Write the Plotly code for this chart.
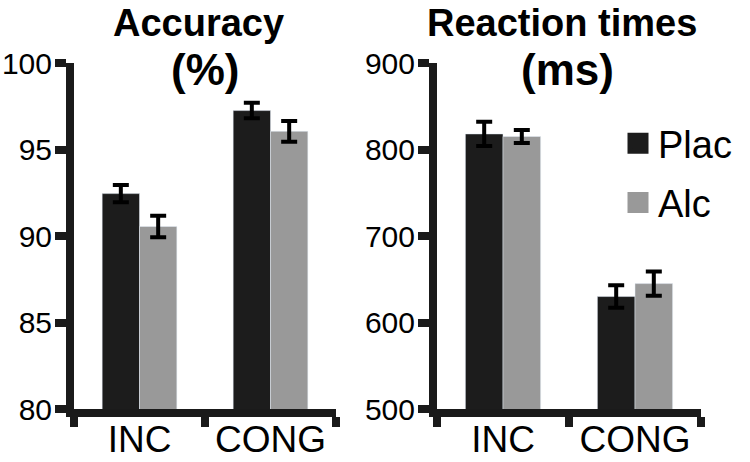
import plotly.graph_objects as go
from plotly.subplots import make_subplots

# ---- data ----
conditions = ["INC", "CONG"]
acc_plac = [92.45, 97.25]
acc_plac_err = [0.5, 0.45]
acc_alc = [90.55, 96.05]
acc_alc_err = [0.62, 0.6]
rt_plac = [818, 630]
rt_plac_err = [14, 13]
rt_alc = [815, 645]
rt_alc_err = [7.5, 14]
acc_ticks = [80, 85, 90, 95, 100]
rt_ticks = [500, 600, 700, 800, 900]
title_line1 = ["Accuracy", "Reaction times"]
title_line2 = ["(%)", "(ms)"]

PLAC_COL = "#1c1c1c"
ALC_COL = "#999999"
AX_COL = "#1a1a1a"
FONT = "Liberation Sans, Arial, sans-serif"

fig = make_subplots(rows=1, cols=2)

def err(vals):
    return dict(type="data", array=vals, visible=True, color="black",
                thickness=4, width=8)

fig.add_trace(go.Bar(x=conditions, y=acc_plac, error_y=err(acc_plac_err),
                     marker_color=PLAC_COL, showlegend=False), 1, 1)
fig.add_trace(go.Bar(x=conditions, y=acc_alc, error_y=err(acc_alc_err),
                     marker_color=ALC_COL, showlegend=False), 1, 1)
fig.add_trace(go.Bar(x=conditions, y=rt_plac, error_y=err(rt_plac_err),
                     marker_color=PLAC_COL, showlegend=False), 1, 2)
fig.add_trace(go.Bar(x=conditions, y=rt_alc, error_y=err(rt_alc_err),
                     marker_color=ALC_COL, showlegend=False), 1, 2)

# legend entries (square markers)
for name, col in [("Plac", PLAC_COL), ("Alc", ALC_COL)]:
    fig.add_trace(go.Scatter(x=[None], y=[None], mode="markers", name=name,
                             legendgroup=name,
                             marker=dict(symbol="square", size=16, color=col,
                                         line=dict(color=col, width=5))), 1, 2)

ydom = [(462 - 409) / 462, (462 - 63) / 462]
xcommon = dict(showline=True, linewidth=8, linecolor=AX_COL, ticks="outside",
               tickson="boundaries", ticklen=10, tickwidth=8, tickcolor=AX_COL,
               tickfont=dict(family=FONT, size=37, color="black"),
               showgrid=False, zeroline=False, ticklabelstandoff=-9,
               automargin=False)
ycommon = dict(showline=True, linewidth=8, linecolor=AX_COL, ticks="outside",
               ticklen=11, tickwidth=8, tickcolor=AX_COL,
               tickfont=dict(family=FONT, size=30, color="black"),
               showgrid=False, zeroline=False, domain=ydom, automargin=False,
               ticklabelstandoff=-3)

fig.update_xaxes(xcommon)
fig.update_yaxes(ycommon)
fig.update_xaxes(domain=[74 / 750, 336 / 750], row=1, col=1)
fig.update_xaxes(domain=[437 / 750, 701 / 750], row=1, col=2)
fig.update_yaxes(range=[80, 100], tickvals=acc_ticks, row=1, col=1)
fig.update_yaxes(range=[500, 900], tickvals=rt_ticks, row=1, col=2)

t1x = [0.477, 0.473]
t2x = [0.5, 0.496]
for i in range(2):
    xr = "x domain" if i == 0 else "x2 domain"
    fig.add_annotation(text="<b>" + title_line1[i] + "</b>", xref=xr, x=t1x[i],
                       yref="paper", y=1.0, xanchor="center",
                       yanchor="top", showarrow=False,
                       font=dict(family=FONT, size=38, color="black"))
    fig.add_annotation(text="<b>" + title_line2[i] + "</b>", xref=xr, x=t2x[i],
                       yref="paper", y=1 - 43 / 462, xanchor="center",
                       yanchor="top", showarrow=False,
                       font=dict(family=FONT, size=44, color="black"))

fig.update_layout(
    width=750, height=462,
    margin=dict(l=0, r=0, t=0, b=0, pad=0, autoexpand=False),
    paper_bgcolor="white", plot_bgcolor="white",
    barmode="group", bargap=0.43, bargroupgap=0,
    legend=dict(x=618 / 750, y=1 - 112 / 462, xanchor="left", yanchor="top",
                font=dict(family=FONT, size=38, color="black"),
                traceorder="grouped", tracegroupgap=7,
                bgcolor="rgba(0,0,0,0)"),
)

fig.write_html("out.html", config={"displayModeBar": False},
               post_script="document.body.style.margin='0';document.body.style.padding='0';")
